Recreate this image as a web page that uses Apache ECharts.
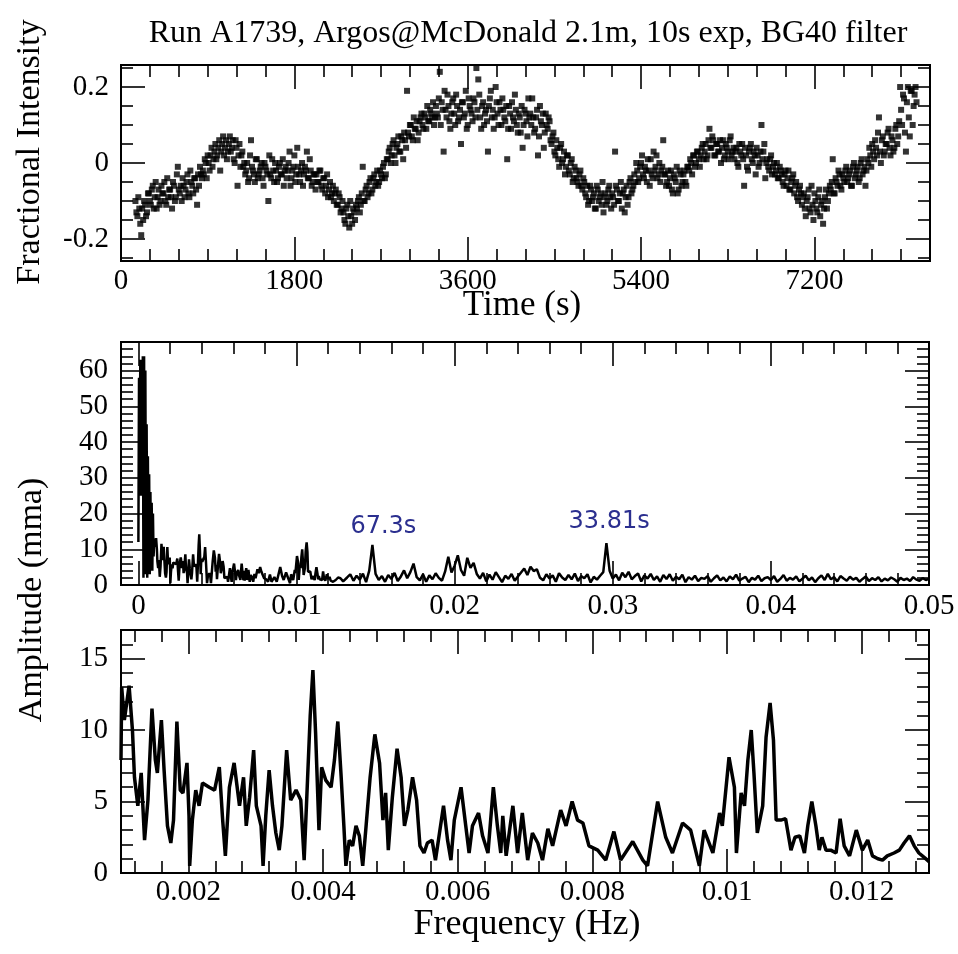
<!DOCTYPE html>
<html><head><meta charset="utf-8">
<script src="https://cdn.jsdelivr.net/npm/echarts@6/dist/echarts.min.js"></script>
<style>html,body{margin:0;padding:0;background:#fff}#c{width:958px;height:954px}</style>
</head><body><div id="c"></div>
<script>
// ---------------- data ----------------
const titleText = 'Run A1739, Argos@McDonald 2.1m, 10s exp, BG40 filter';
const timeStart = 150;   // s, first exposure
const timeStep = 20;     // s, spacing within each interleaved set
// exposures at 150, 170, 190, ... s
const intensityA = [
-0.10,-0.14,-0.12,-0.19,-0.15,-0.11,-0.13,
-0.08,-0.11,-0.06,-0.09,-0.12,-0.07,-0.10,-0.08,-0.05,-0.11,-0.09,-0.07,-0.12,-0.06,-0.09,-0.01,-0.08,-0.10,-0.06,-0.07,-0.03,-0.09,-0.05,-0.08,-0.04,-0.11,-0.06,-0.03,
-0.02,0.01,-0.04,0.00,0.02,-0.01,0.03,0.01,0.04,-0.02,0.05,0.02,0.06,0.03,0.07,0.04,0.01,0.06,-0.06,0.05,0.02,
-0.01,-0.03,0.00,-0.04,0.06,-0.02,-0.05,0.01,-0.03,-0.01,-0.04,0.00,-0.02,-0.10,-0.03,0.01,-0.05,-0.02,-0.04,0.00,-0.03,-0.06,-0.01,-0.02,0.03,-0.04,-0.01,-0.05,0.04,-0.03,-0.02,-0.06,-0.01,0.03,-0.04,-0.02,-0.05,-0.03,
-0.03,-0.05,-0.02,-0.07,-0.04,-0.06,-0.09,-0.05,-0.08,-0.10,-0.07,-0.11,-0.09,-0.12,
-0.13,-0.16,-0.11,-0.17,-0.14,-0.12,-0.15,
-0.12,-0.09,-0.11,-0.01,-0.10,-0.06,-0.08,-0.04,-0.07,-0.03,-0.05,-0.06,-0.02,-0.04,0.00,-0.03,
0.01,0.04,0.02,0.06,0.00,0.05,0.03,0.07,0.01,0.06,
0.19,0.07,0.10,0.06,0.09,0.11,0.08,0.12,0.10,0.13,0.09,0.11,0.14,0.12,0.10,
0.15,0.12,0.24,0.16,0.03,0.14,0.18,0.11,0.13,0.17,0.10,0.15,0.12,0.05,0.16,0.13,0.09,0.17,0.14,0.11,
0.16,0.25,0.22,0.12,0.15,0.10,0.14,0.03,0.17,0.12,0.09,0.20,0.13,0.16,0.10,0.14,0.11,0.01,0.15,0.09,
0.12,0.18,0.10,0.13,0.08,0.04,0.14,0.11,0.17,0.13,
0.17,0.08,0.12,0.02,0.15,0.10,0.04,0.13,0.09,0.11,
0.05,0.08,0.02,0.04,-0.01,0.05,0.01,-0.03,0.02,-0.02,0.00,-0.05,-0.01,-0.04,-0.06,-0.02,-0.07,
-0.05,-0.09,-0.11,-0.06,-0.10,-0.08,-0.12,-0.07,-0.09,-0.11,-0.13,-0.08,-0.10,-0.06,-0.12,-0.09,0.03,-0.07,-0.10,-0.05,-0.08,-0.13,-0.06,-0.09,-0.04,-0.07,
-0.03,0.00,-0.05,-0.01,0.02,-0.04,-0.02,0.01,-0.06,-0.03,0.03,-0.01,-0.04,0.00,-0.02,0.06,-0.03,-0.05,
-0.06,-0.02,-0.08,-0.04,-0.01,-0.07,-0.03,-0.05,-0.02,-0.06,
-0.01,0.01,-0.03,0.02,0.00,0.03,-0.01,0.04,0.01,0.05,0.02,0.09,0.04,0.06,0.02,0.05,0.03,0.00,0.06,0.02,0.04,0.01,0.07,0.03,
0.01,0.04,-0.01,0.03,0.05,-0.06,0.02,-0.02,0.04,0.01,0.03,-0.03,0.02,0.00,0.10,0.03,-0.04,
0.01,-0.02,0.02,-0.01,-0.03,0.00,-0.04,-0.02,-0.05,-0.03,-0.06,-0.02,-0.07,-0.04,-0.08,-0.05,-0.10,-0.06,
-0.11,-0.08,-0.14,-0.09,-0.12,-0.06,-0.15,-0.10,-0.13,-0.07,-0.11,-0.16,-0.09,-0.12,-0.08,
-0.07,0.01,-0.08,-0.05,-0.02,-0.06,-0.03,-0.05,-0.01,-0.04,-0.02,-0.06,0.00,-0.03,-0.01,-0.04,0.01,-0.02,-0.06,
0.01,0.04,-0.01,0.03,0.06,0.02,0.12,0.00,0.07,0.03,0.05,0.09,0.02,0.06,0.04,0.10,0.07,
0.20,0.10,0.17,0.03,0.20,0.07,0.19,0.15,0.20
];
// exposures at 160, 180, 200, ... s
const intensityB = [
-0.13,-0.09,-0.16,-0.12,-0.10,-0.14,-0.08,
-0.10,-0.07,-0.12,-0.05,-0.09,-0.11,-0.06,-0.08,-0.10,-0.04,-0.07,-0.09,-0.05,-0.10,-0.03,-0.07,-0.06,-0.04,-0.09,-0.05,-0.08,-0.02,-0.06,-0.04,-0.07,-0.03,-0.01,-0.04,
-0.03,0.00,0.02,-0.02,0.04,0.01,0.05,0.02,0.06,0.03,0.07,0.04,0.01,0.05,0.03,0.06,0.00,0.04,0.02,-0.01,0.03,
0.00,-0.02,-0.05,0.02,-0.01,-0.03,0.01,-0.04,-0.02,0.00,-0.06,-0.01,-0.03,0.02,-0.04,-0.02,0.00,-0.05,-0.01,-0.03,0.01,-0.02,-0.04,0.00,-0.06,-0.02,0.02,-0.03,-0.01,-0.05,0.00,-0.03,-0.02,-0.04,0.01,-0.06,-0.03,-0.07,
-0.05,-0.02,-0.06,-0.04,-0.08,-0.03,-0.07,-0.09,-0.06,-0.08,-0.11,-0.08,-0.13,-0.10,
-0.15,-0.12,-0.14,-0.10,-0.16,-0.13,-0.11,
-0.10,-0.13,-0.08,-0.10,-0.07,-0.09,-0.05,-0.08,-0.04,-0.06,-0.02,-0.05,-0.03,-0.01,-0.04,0.01,
0.03,0.00,0.05,0.02,0.04,0.07,0.03,0.06,0.08,0.04,
0.08,0.10,0.07,0.12,0.09,0.06,0.11,0.13,0.09,0.12,0.15,0.11,0.13,0.16,0.12,
0.13,0.17,0.10,0.14,0.19,0.12,0.15,0.09,0.16,0.13,0.18,0.11,0.14,0.16,0.12,0.19,0.10,0.15,0.13,0.17,
0.12,0.14,0.18,0.09,0.16,0.13,0.11,0.15,0.19,0.14,0.12,0.16,0.10,0.14,0.17,0.12,0.15,0.09,0.13,0.16,
0.11,0.14,0.08,0.12,0.15,0.10,0.13,0.07,0.12,0.10,
0.12,0.09,0.14,0.07,0.11,0.13,0.08,0.10,0.12,0.06,
0.07,0.03,0.06,0.01,0.04,0.00,0.03,-0.01,0.02,-0.03,0.01,-0.04,-0.02,-0.05,-0.03,-0.06,-0.04,
-0.08,-0.06,-0.10,-0.07,-0.09,-0.12,-0.06,-0.10,-0.08,-0.05,-0.09,-0.11,-0.07,-0.09,-0.08,-0.11,-0.06,-0.10,-0.08,-0.12,-0.07,-0.09,-0.11,-0.05,-0.08,-0.06,
-0.05,-0.02,-0.04,0.00,-0.03,-0.01,-0.05,-0.02,0.01,-0.04,-0.02,0.02,-0.03,-0.05,-0.01,-0.03,-0.06,-0.02,
-0.04,-0.07,-0.03,-0.05,-0.08,-0.02,-0.06,-0.03,-0.05,-0.01,
-0.02,0.00,0.02,-0.01,0.03,0.01,0.02,0.05,0.03,0.01,0.06,0.04,0.07,0.02,0.05,0.03,0.06,0.04,0.01,0.05,0.03,0.06,0.02,0.04,
0.03,0.00,0.05,0.02,0.01,0.04,-0.01,0.03,0.05,0.00,0.02,0.04,-0.01,0.03,0.01,0.05,0.00,
-0.01,0.01,-0.03,0.00,-0.02,-0.04,-0.01,-0.03,-0.06,-0.02,-0.04,-0.07,-0.05,-0.03,-0.06,-0.09,-0.07,-0.08,
-0.09,-0.12,-0.10,-0.07,-0.13,-0.11,-0.08,-0.12,-0.09,-0.14,-0.10,-0.12,-0.07,-0.10,-0.06,
-0.05,-0.08,-0.04,-0.06,-0.03,-0.07,-0.04,-0.02,-0.05,-0.03,-0.06,-0.01,-0.04,-0.02,-0.05,0.00,-0.03,-0.01,-0.02,
0.00,0.02,0.05,0.01,0.04,0.08,0.03,0.06,0.02,0.05,0.08,0.04,0.07,0.03,0.09,0.05,0.11,
0.14,0.18,0.08,0.16,0.12,0.19,0.10,0.18,0.16
];

// amplitude spectrum, lowest frequencies (Hz, mma)
const lowFreq = [0.00000,0.00004,0.00008,0.00012,0.00016,0.00020,0.00024,0.00028,0.00032,0.00036,0.00040,0.00044,0.00048,0.00052,0.00056,0.00060,0.00064,0.00068,0.00072,0.00076,0.00080,0.00084,0.00088,0.00092,0.00096];
const lowAmp  = [12,58,30,63,25,62,28,64,2,64,3,60,5,45,2,36,4,31,3,26,6,23,4,20,8];

// amplitude spectrum, 0.001-0.013 Hz (Hz, mma)
const zoomFreq = [0.00100,0.00101,0.00105,0.00112,0.00117,0.00120,0.00125,0.00130,0.00135,0.00140,0.00146,0.00151,0.00154,0.00160,0.00164,0.00169,0.00174,0.00178,0.00183,0.00188,0.00192,0.00198,0.00201,0.00202,0.00206,0.00211,0.00216,0.00221,0.00231,0.00239,0.00246,0.00251,0.00255,0.00261,0.00268,0.00276,0.00282,0.00286,0.00291,0.00297,0.00301,0.00308,0.00311,0.00315,0.00320,0.00325,0.00330,0.00335,0.00339,0.00346,0.00352,0.00360,0.00367,0.00372,0.00377,0.00381,0.00385,0.00389,0.00394,0.00398,0.00404,0.00412,0.00417,0.00422,0.00427,0.00431,0.00434,0.00439,0.00444,0.00449,0.00454,0.00459,0.00464,0.00470,0.00477,0.00484,0.00489,0.00493,0.00497,0.00503,0.00510,0.00516,0.00521,0.00526,0.00533,0.00539,0.00544,0.00550,0.00555,0.00562,0.00567,0.00573,0.00579,0.00585,0.00590,0.00595,0.00605,0.00612,0.00617,0.00622,0.00631,0.00637,0.00645,0.00653,0.00659,0.00664,0.00667,0.00672,0.00682,0.00689,0.00696,0.00704,0.00711,0.00719,0.00726,0.00734,0.00741,0.00753,0.00761,0.00770,0.00778,0.00786,0.00795,0.00808,0.00820,0.00832,0.00842,0.00860,0.00875,0.00882,0.00897,0.00909,0.00919,0.00934,0.00946,0.00959,0.00966,0.00979,0.00989,0.00993,0.01003,0.01011,0.01014,0.01021,0.01026,0.01031,0.01036,0.01040,0.01045,0.01053,0.01058,0.01064,0.01069,0.01073,0.01080,0.01087,0.01095,0.01101,0.01108,0.01115,0.01120,0.01126,0.01132,0.01137,0.01141,0.01147,0.01154,0.01162,0.01168,0.01174,0.01182,0.01192,0.01201,0.01209,0.01216,0.01224,0.01231,0.01238,0.01248,0.01256,0.01263,0.01271,0.01278,0.01285,0.01295,0.01300];
const zoomAmp = [7.9,13.0,10.7,13.1,10.0,6.7,4.7,7.0,2.3,5.1,11.5,7.9,7.0,10.7,7.2,3.3,2.1,3.7,10.6,5.8,5.6,7.7,4.0,0.5,3.7,5.8,4.7,6.3,6.0,5.8,7.4,3.7,1.2,6.0,7.7,4.7,6.7,3.3,5.3,8.6,4.7,3.3,0.5,4.0,7.2,4.7,2.8,1.6,3.3,8.6,5.1,5.8,5.1,0.9,6.5,11.0,14.2,9.8,3.0,7.4,6.5,6.0,7.9,10.6,6.7,3.3,0.5,2.3,1.9,3.3,2.6,0.5,3.3,6.7,9.7,7.7,3.7,5.6,1.6,5.3,8.7,6.7,3.3,4.4,6.7,5.1,1.9,1.4,2.1,2.3,0.9,2.8,4.7,2.3,0.9,3.7,6.0,3.3,1.4,3.3,4.2,2.6,1.4,6.0,3.3,1.4,4.0,1.2,4.7,1.4,4.2,0.9,2.8,2.1,0.9,3.1,1.9,4.4,3.3,5.0,3.7,3.5,1.9,1.6,0.9,2.9,0.9,2.2,0.9,0.5,5.0,2.5,1.4,3.5,3.0,0.5,3.0,1.4,4.2,3.3,8.1,6.0,1.4,5.6,4.7,7.9,10.0,7.0,2.8,4.7,9.5,11.9,9.3,3.7,3.7,3.8,1.6,2.5,2.6,1.4,3.3,5.0,3.3,1.6,2.5,1.6,1.6,1.4,3.8,1.9,1.2,3.0,1.6,2.3,1.2,1.0,0.9,1.2,1.4,1.6,2.1,2.6,1.9,1.4,1.0,0.8];

// amplitude spectrum above 0.013 Hz, regular grid
const highFreqStart = 0.0132;
const highFreqStep = 0.0002;
const highAmp = [
2.1,3.0,1.2,2.6,1.5,3.2,0.8,4.0,11.2,3.1,
1.4,2.5,0.9,2.8,1.7,3.4,1.1,2.4,4.1,1.9,
3.6,6.0,2.2,1.3,3.0,0.9,2.7,1.6,3.3,2.0,
1.2,3.8,7.9,3.5,5.4,8.3,4.2,2.6,7.6,4.8,
6.2,3.1,1.8,3.4,1.0,2.9,1.5,3.6,2.2,0.8,
2.6,1.7,3.1,1.2,2.4,3.5,4.6,2.8,5.1,3.9,
4.4,2.0,1.3,3.0,1.8,2.7,0.9,3.3,2.1,1.4,
2.8,1.6,3.2,1.1,2.5,1.9,3.0,0.7,2.3,1.5,
2.6,3.6,11.7,4.0,1.8,2.9,1.3,3.4,2.2,3.7,
1.6,2.5,3.2,1.0,2.7,1.8,3.1,1.4,2.4,0.9,
2.8,1.7,3.0,1.2,2.3,1.6,2.9,0.8,2.2,1.5,
2.6,1.1,2.0,1.7,2.5,0.9,1.9,2.7,1.3,2.1,
1.0,2.4,1.6,2.9,1.2,1.8,2.3,0.8,2.0,1.5,
2.6,1.1,1.9,2.2,1.4,2.5,0.9,1.7,2.8,1.2,
2.0,1.5,2.4,1.0,1.8,2.6,1.3,2.1,0.8,1.9,
2.7,1.4,3.1,1.6,2.2,1.0,2.5,1.8,1.2,2.3,
1.5,2.0,0.9,1.7,2.4,1.1,1.9,1.4,2.2,1.0,
1.8,1.3,2.1,1.6,0.9,2.0,1.4,1.8,1.1,2.2,
1.5,1.2,1.9,1.4,1.7
];

// annotated peaks
const peakLabels = ['67.3s', '33.81s'];
const peakFreq = [0.01486, 0.02958];
const peakAmp = [11.2, 11.7];

// tick labels
const timeTicks = [0, 1800, 3600, 5400, 7200];
const intensityTicks = [-0.2, 0, 0.2];
const freqTicksWide = [0, 0.01, 0.02, 0.03, 0.04, 0.05];
const ampTicksWide = [0, 10, 20, 30, 40, 50, 60];
const freqTicksZoom = [0.002, 0.004, 0.006, 0.008, 0.01, 0.012];
const ampTicksZoom = [0, 5, 10, 15];

// ---------------- build ----------------
const SERIF = '"Liberation Serif", "Times New Roman", serif';
const LAB = 29, MAJ = 24, MINL = 12, TW = 1.6;

const scatterData = intensityA.map((v, i) => [timeStart + i * timeStep, v])
  .concat(intensityB.map((v, i) => [timeStart + timeStep / 2 + i * timeStep, v]));
const zoomData = zoomFreq.map((f, i) => [f, zoomAmp[i]]);
const wideData = lowFreq.map((f, i) => [f, lowAmp[i]])
  .concat(zoomData)
  .concat(highAmp.map((a, i) => [+(highFreqStart + i * highFreqStep).toFixed(5), a]));

function labelFmt(list) {
  return function (v) {
    for (const l of list) if (Math.abs(l - v) < 1e-9) return String(l);
    return '';
  };
}

function axisPair(g, dim, o) {
  const pos = dim === 'x' ? ['bottom', 'top'] : ['left', 'right'];
  return pos.map((p, k) => {
    const a = {
      gridIndex: g, type: 'value', position: p, min: o.min, max: o.max,
      axisLine: { show: false, onZero: false }, splitLine: { show: false },
      axisTick: { show: true, inside: true, length: MAJ, lineStyle: { color: '#000', width: TW } },
      minorTick: { show: true, splitNumber: o.minor, length: MINL, lineStyle: { color: '#000', width: TW } },
      axisLabel: {
        show: k === 0, margin: o.margin, color: '#000', fontFamily: SERIF, fontSize: LAB,
        formatter: labelFmt(o.labels), hideOverlap: false
      }
    };
    if (o.interval != null) a.interval = o.interval;
    else { a.minInterval = o.step; a.maxInterval = o.step; }
    return a;
  });
}

const xAxis = [].concat(
  axisPair(0, 'x', { min: 0, max: 8400, interval: 1800, minor: 6, labels: timeTicks, margin: 6 }),
  axisPair(1, 'x', { min: -0.0011, max: 0.05, step: 0.01, minor: 5, labels: freqTicksWide, margin: 7 }),
  axisPair(2, 'x', { min: 0.001, max: 0.013, step: 0.002, minor: 5, labels: freqTicksZoom, margin: 5 })
);
const yAxis = [].concat(
  axisPair(0, 'y', { min: -0.258, max: 0.258, step: 0.2, minor: 4, labels: intensityTicks, margin: 12 }),
  axisPair(1, 'y', { min: 0, max: 68, interval: 10, minor: 5, labels: ampTicksWide, margin: 13 }),
  axisPair(2, 'y', { min: 0, max: 17, interval: 5, minor: 5, labels: ampTicksZoom, margin: 13 })
);

const gridStyle = { show: true, borderColor: '#000', borderWidth: 2, backgroundColor: 'transparent' };

const chart = echarts.init(document.getElementById('c'), null, { renderer: 'canvas' });
chart.setOption({
  animation: false,
  backgroundColor: '#fff',
  grid: [
    Object.assign({ left: 121, top: 65, width: 809, height: 196 }, gridStyle),
    Object.assign({ left: 121, top: 342, width: 808, height: 243 }, gridStyle),
    Object.assign({ left: 121, top: 630, width: 808, height: 243 }, gridStyle)
  ],
  xAxis: xAxis,
  yAxis: yAxis,
  series: [
    {
      type: 'scatter', xAxisIndex: 0, yAxisIndex: 0, data: scatterData,
      symbol: 'rect', symbolSize: 6, itemStyle: { color: '#000' }, silent: true, large: false
    },
    {
      type: 'line', xAxisIndex: 2, yAxisIndex: 2, data: wideData,
      showSymbol: false, symbol: 'none', lineStyle: { color: '#000', width: 2.5 }, silent: true,
      markPoint: {
        symbol: 'circle', symbolSize: 0,
        label: {
          show: true, position: 'top', distance: 6, color: '#2b2f8f',
          fontFamily: '"DejaVu Sans", sans-serif', fontSize: 24,
          formatter: p => p.name
        },
        data: peakLabels.map((n, i) => ({
          name: n, coord: [peakFreq[i], peakAmp[i]],
          label: { offset: [i === 0 ? 10 : 3, i === 0 ? 0 : -3] }
        }))
      }
    },
    {
      type: 'line', xAxisIndex: 4, yAxisIndex: 4, data: zoomData,
      showSymbol: false, symbol: 'none', lineStyle: { color: '#000', width: 3.5 }, silent: true
    }
  ],
  graphic: [
    { type: 'text', x: 528, y: 34, style: { text: titleText, fontSize: 32, fontFamily: SERIF, fill: '#000', align: 'center', verticalAlign: 'middle' } },
    { type: 'text', x: 30, y: 152, rotation: Math.PI / 2, style: { text: 'Fractional Intensity', fontSize: 34, fontFamily: SERIF, fill: '#000', align: 'center', verticalAlign: 'middle' } },
    { type: 'text', x: 522, y: 306, style: { text: 'Time (s)', fontSize: 35, fontFamily: SERIF, fill: '#000', align: 'center', verticalAlign: 'middle' } },
    { type: 'text', x: 32, y: 600, rotation: Math.PI / 2, style: { text: 'Amplitude (mma)', fontSize: 34, fontFamily: SERIF, fill: '#000', align: 'center', verticalAlign: 'middle' } },
    { type: 'text', x: 527, y: 925, style: { text: 'Frequency (Hz)', fontSize: 36, fontFamily: SERIF, fill: '#000', align: 'center', verticalAlign: 'middle' } }
  ]
});
</script>
</body></html>
